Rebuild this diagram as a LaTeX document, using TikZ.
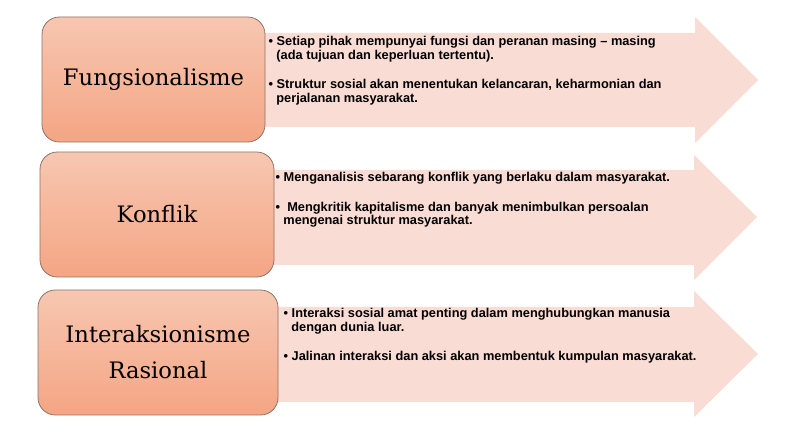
\documentclass[tikz,border=0pt]{standalone}
\usepackage{fontspec}
\setmainfont{Liberation Sans}
\newfontfamily\slabfont{DejaVu Serif}
\usepackage{xcolor}
\usetikzlibrary{positioning,calc}
\definecolor{boxtop}{HTML}{F7C7B1}
\definecolor{boxbottom}{HTML}{F4A584}
\definecolor{boxline}{HTML}{8E7268}
\definecolor{arrowpink}{HTML}{F9DCD3}
\tikzset{
  topicbox/.style={draw=boxline, line width=0.6pt, rounded corners=13pt, top color=boxtop, bottom color=boxbottom,
    minimum height=93.75pt, align=center, font=\slabfont\fontsize{17}{27}\selectfont},
  arrowbg/.style={fill=arrowpink},
  pointtext/.style={anchor=north west, inner sep=0pt, align=left, font=\bfseries\fontsize{9.6}{10.4}\selectfont}
}
\newcommand{\hang}{\hspace*{5.8pt}}
\begin{document}
\begin{tikzpicture}[x=0.75pt, y=-0.75pt]
    \useasboundingbox (0,0) rectangle (794,442);

    % Arrows behind the boxes
    \fill[arrowbg] (260,33) -- (695,33) -- (695,17) -- (758,80) -- (695,143) -- (695,127) -- (260,127) -- cycle;
    \fill[arrowbg] (270,170) -- (694,170) -- (694,155) -- (757,217) -- (694,280) -- (694,265) -- (270,265) -- cycle;
    \fill[arrowbg] (275,307) -- (694,307) -- (694,291) -- (758,354) -- (694,417) -- (694,402) -- (275,402) -- cycle;

    % Topic boxes
    \node [topicbox, minimum width=167.25pt] (fungsi) at (153.5,79.5) {Fungsionalisme};
    \node [topicbox, minimum width=175.5pt] (konflik) at (157,214.5) {Konflik};
    \node [topicbox, minimum width=180pt] (interaksi) at (158,352.5) {Interaksionisme\\Rasional};

    % Points
    \node [pointtext] (fungsitext) at ($(fungsi.north east)+(3,19)$)
      {\textbullet\ Setiap pihak mempunyai fungsi dan peranan masing -- masing\\
       \hang(ada tujuan dan keperluan tertentu).\\[12pt]
       \textbullet\ Struktur sosial akan menentukan kelancaran, keharmonian dan\\
       \hang perjalanan masyarakat.};
    \node [pointtext] (konfliktext) at ($(konflik.north east)+(1,20)$)
      {\textbullet\ Menganalisis sebarang konflik yang berlaku dalam masyarakat.\\[12pt]
       \textbullet\ \ Mengkritik kapitalisme dan banyak menimbulkan persoalan\\
       \hang mengenai struktur masyarakat.};
    \node [pointtext] (interaksitext) at ($(interaksi.north east)+(5,18)$)
      {\textbullet\ Interaksi sosial amat penting dalam menghubungkan manusia\\
       \hang dengan dunia luar.\\[12pt]
       \textbullet\ Jalinan interaksi dan aksi akan membentuk kumpulan masyarakat.};
\end{tikzpicture}
\end{document}
